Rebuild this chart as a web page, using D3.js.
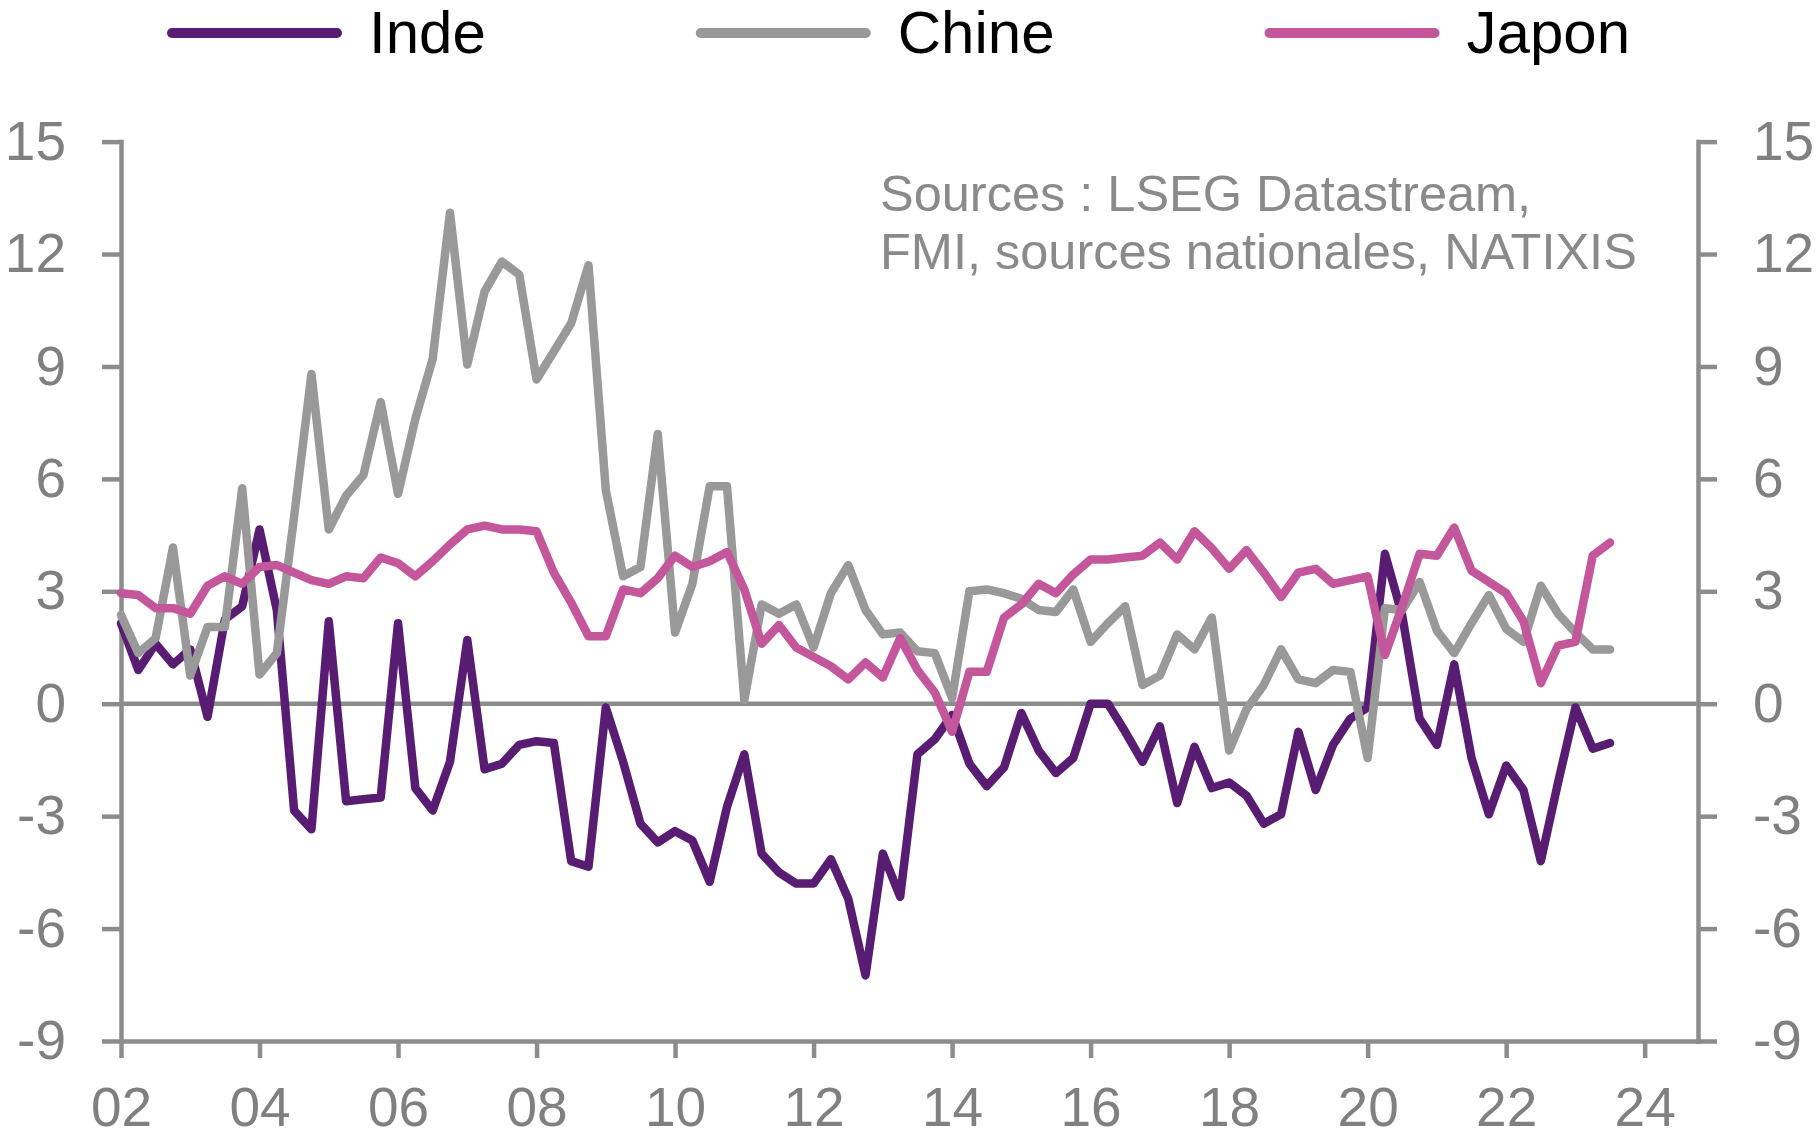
<!DOCTYPE html>
<html>
<head>
<meta charset="utf-8">
<script src="https://cdn.jsdelivr.net/npm/d3@7"></script>
<style>
  html, body { margin: 0; padding: 0; background: #ffffff; }
  svg { display: block; font-family: "Liberation Sans", Arial, sans-serif; }
</style>
</head>
<body>
<svg id="chart" width="1820" height="1138"></svg>
<script>
// Quarterly series, first point 2002 Q1, last point 2023 Q3
const startYear = 2002;

const inde = [
  2.15, 0.9, 1.6, 1.05, 1.45, -0.35, 2.25, 2.6, 4.65, 2.5,
  -2.85, -3.35, 2.2, -2.6, -2.55, -2.5, 2.15, -2.25, -2.85, -1.55,
  1.7, -1.75, -1.6, -1.1, -1.0, -1.05, -4.2, -4.35, -0.1, -1.55,
  -3.2, -3.7, -3.4, -3.65, -4.75, -2.75, -1.35, -4.0, -4.5, -4.8,
  -4.8, -4.15, -5.2, -7.25, -4.0, -5.15, -1.35, -0.95, -0.3, -1.6,
  -2.2, -1.7, -0.25, -1.25, -1.85, -1.45, 0.0, 0.0, -0.75, -1.55,
  -0.6, -2.65, -1.15, -2.25, -2.1, -2.45, -3.2, -2.95, -0.75, -2.3,
  -1.1, -0.4, -0.1, 4.0, 2.35, -0.4, -1.1, 1.05, -1.45, -2.95,
  -1.65, -2.3, -4.2, -2.1, -0.1, -1.2, -1.05
];

const chine = [
  2.37, 1.35, 1.75, 4.17, 0.75, 2.05, 2.05, 5.75, 0.78, 1.35,
  5.0, 8.8, 4.65, 5.55, 6.1, 8.05, 5.6, 7.6, 9.2, 13.1,
  9.05, 11.0, 11.8, 11.45, 8.65, 9.4, 10.15, 11.7, 5.7, 3.4,
  3.65, 7.2, 1.9, 3.2, 5.8, 5.8, 0.1, 2.65, 2.4, 2.65,
  1.5, 2.95, 3.7, 2.5, 1.85, 1.9, 1.4, 1.35, 0.15, 3.0,
  3.05, 2.95, 2.8, 2.5, 2.45, 3.05, 1.65, 2.15, 2.6, 0.5,
  0.75, 1.85, 1.45, 2.3, -1.25, -0.15, 0.5, 1.45, 0.65, 0.55,
  0.9, 0.85, -1.45, 2.55, 2.5, 3.25, 1.95, 1.35, 2.15, 2.9,
  2.0, 1.65, 3.15, 2.4, 1.9, 1.45, 1.45
];

const japon = [
  2.95, 2.9, 2.55, 2.55, 2.4, 3.15, 3.4, 3.2, 3.65, 3.7,
  3.5, 3.3, 3.2, 3.4, 3.35, 3.9, 3.75, 3.4, 3.8, 4.25,
  4.65, 4.75, 4.65, 4.65, 4.6, 3.5, 2.7, 1.8, 1.8, 3.05,
  2.95, 3.35, 3.95, 3.65, 3.8, 4.05, 3.05, 1.6, 2.1, 1.5,
  1.25, 1.0, 0.65, 1.1, 0.7, 1.75, 0.9, 0.3, -0.75, 0.85,
  0.85, 2.3, 2.65, 3.2, 2.95, 3.45, 3.85, 3.85, 3.9, 3.95,
  4.3, 3.85, 4.6, 4.15, 3.6, 4.1, 3.5, 2.85, 3.5, 3.6,
  3.2, 3.3, 3.4, 1.3, 2.6, 4.0, 3.95, 4.7, 3.55, 3.25,
  2.95, 2.2, 0.55, 1.55, 1.65, 3.95, 4.3
];

const seriesNames = ["Inde", "Chine", "Japon"];
const seriesColors = ["#581c72", "#999999", "#c4569b"];
const seriesValues = [inde, chine, japon];

const yTicks = [-9, -6, -3, 0, 3, 6, 9, 12, 15];
const xTickYears = [2002, 2004, 2006, 2008, 2010, 2012, 2014, 2016, 2018, 2020, 2022, 2024];
const sourceLines = ["Sources : LSEG Datastream,", "FMI, sources nationales, NATIXIS"];

// Layout
const axisColor = "#8c8c8c";
const labelColor = "#808080";
const plotLeft = 121, plotRight = 1698, plotTop = 141.6, plotBottom = 1041;

const svg = d3.select("#chart");

const x = d3.scaleLinear().domain([2002, 2024.77]).range([plotLeft, plotRight]);
const y = d3.scaleLinear().domain([-9, 15]).range([plotBottom, plotTop]);

// Plain hyphen for negatives, as in the printed labels
const yFormat = d => String(d);

function styleAxis(g) {
  g.selectAll("path.domain").attr("stroke", axisColor).attr("stroke-width", 4.5)
    .attr("stroke-linecap", "square");
  g.selectAll(".tick line").attr("stroke", axisColor).attr("stroke-width", 4.5);
  g.selectAll(".tick text").attr("fill", labelColor)
    .style("font-size", "55px")
    .style("font-family", "'Liberation Sans', Arial, sans-serif");
}

// Left axis
const gLeft = svg.append("g").attr("transform", `translate(${plotLeft},0)`)
  .call(d3.axisLeft(y).tickValues(yTicks).tickSize(19).tickSizeOuter(0).tickPadding(36)
    .tickFormat(yFormat));
styleAxis(gLeft);

// Right axis
const gRight = svg.append("g").attr("transform", `translate(${plotRight},0)`)
  .call(d3.axisRight(y).tickValues(yTicks).tickSize(19).tickSizeOuter(0).tickPadding(36)
    .tickFormat(yFormat));
styleAxis(gRight);

// Bottom axis
const gBottom = svg.append("g").attr("transform", `translate(0,${plotBottom})`)
  .call(d3.axisBottom(x).tickValues(xTickYears).tickSize(17).tickSizeOuter(0)
    .tickFormat(d => String(d % 100).padStart(2, "0")));
styleAxis(gBottom);
gBottom.selectAll(".tick text").attr("y", 85).attr("dy", 0);

// Zero line
svg.append("line")
  .attr("x1", plotLeft).attr("x2", plotRight)
  .attr("y1", y(0)).attr("y2", y(0))
  .attr("stroke", axisColor).attr("stroke-width", 4.5);

// Series lines
const line = d3.line()
  .x((d, i) => x(startYear + i / 4))
  .y(d => y(d));

seriesValues.forEach((vals, k) => {
  svg.append("path")
    .datum(vals)
    .attr("fill", "none")
    .attr("stroke", seriesColors[k])
    .attr("stroke-width", 8.5)
    .attr("stroke-linejoin", "round")
    .attr("stroke-linecap", "round")
    .attr("d", line);
});

// Source note
const src = svg.append("text")
  .attr("x", 880).attr("y", 211)
  .attr("fill", "#8a8a8a")
  .style("font-size", "50.5px");
sourceLines.forEach((t, i) => {
  src.append("tspan").attr("x", 880).attr("dy", i === 0 ? 0 : 58).text(t);
});

// Legend
const legend = svg.append("g");
let lx = 172;
seriesNames.forEach((name, k) => {
  legend.append("line")
    .attr("x1", lx).attr("x2", lx + 165)
    .attr("y1", 33).attr("y2", 33)
    .attr("stroke", seriesColors[k])
    .attr("stroke-width", 10)
    .attr("stroke-linecap", "round");
  const t = legend.append("text")
    .attr("x", lx + 197).attr("y", 53)
    .attr("fill", "#000000")
    .style("font-size", "60px")
    .text(name);
  lx = lx + 197 + t.node().getComputedTextLength() + 215;
});
</script>
</body>
</html>
